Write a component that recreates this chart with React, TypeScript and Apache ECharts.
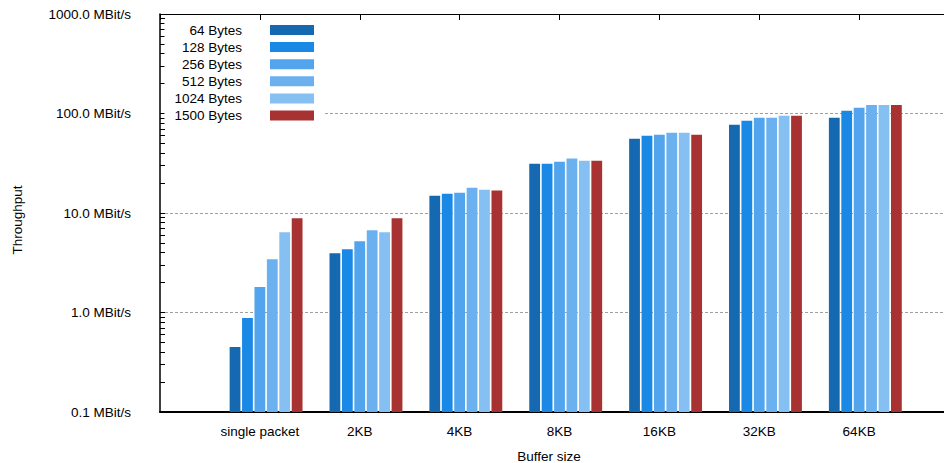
import React, { useEffect, useRef } from 'react';
import * as echarts from 'echarts';

// Buffer sizes along the x axis
const categories = ['single packet', '2KB', '4KB', '8KB', '16KB', '32KB', '64KB'];

// Packet sizes (one series each) and their colours
const seriesNames = ['64 Bytes', '128 Bytes', '256 Bytes', '512 Bytes', '1024 Bytes', '1500 Bytes'];
const seriesColors = ['#1469b0', '#1a88e5', '#52a5ec', '#6bb1ef', '#86bff2', '#a83232'];

// Throughput in MBit/s per buffer size
const bytes64 = [0.45, 3.94, 14.9, 31.3, 55.7, 77.0, 90.5];
const bytes128 = [0.88, 4.33, 15.6, 31.3, 59.7, 84.5, 106.5];
const bytes256 = [1.8, 5.21, 16.0, 32.8, 61.1, 90.5, 114];
const bytes512 = [3.43, 6.72, 17.9, 35.2, 64.0, 90.5, 122];
const bytes1024 = [6.41, 6.41, 17.1, 33.6, 64.0, 94.8, 122];
const bytes1500 = [8.87, 8.87, 16.8, 33.6, 61.1, 94.8, 122];

const seriesValues = [bytes64, bytes128, bytes256, bytes512, bytes1024, bytes1500];

// Log axis range and tick marks (decades with 2..9 sub-ticks)
const yMin = 0.1;
const yMax = 1000;
const decades = [0.1, 1, 10, 100];
const mantissas = [1, 2, 3, 4, 5, 6, 7, 8, 9];

const FONT = '"Liberation Sans", Arial, Helvetica, sans-serif';
const FONT_SIZE = 13.5;

export default function App() {
  const ref = useRef<HTMLDivElement>(null);

  useEffect(() => {
    if (!ref.current) return;
    const chart = echarts.init(ref.current, null, { renderer: 'svg' });

    const tickValues = decades
      .flatMap((d) => mantissas.map((m) => m * d))
      .concat([yMax])
      .map((v) => Math.log10(v));

    const barWidth = 10.8;
    const barGap = '15%';

    const series: any[] = [
      // empty leading slot: keeps the gap of each cluster on its left side
      {
        type: 'bar',
        name: 'gap',
        data: [],
        barWidth,
        barGap,
        xAxisIndex: 0,
        yAxisIndex: 0,
      },
      ...seriesNames.map((name, s) => ({
        type: 'bar',
        name,
        xAxisIndex: 0,
        yAxisIndex: 0,
        barWidth,
        barGap,
        itemStyle: { color: seriesColors[s] },
        emphasis: { disabled: true },
        data: seriesValues[s].map((v, i) => [i, v]),
      })),
    ];

    const option: any = {
      animation: false,
      backgroundColor: '#ffffff',
      textStyle: { fontFamily: FONT },
      grid: {
        left: 160,
        right: -15,
        top: 14,
        bottom: 51,
        containLabel: false,
        outerBoundsMode: 'none',
      },
      legend: {
        data: seriesNames,
        orient: 'vertical',
        align: 'right',
        right: 621,
        top: 21,
        padding: [2, 9, 2, 10],
        backgroundColor: '#ffffff',
        itemWidth: 44,
        itemHeight: 10,
        itemGap: 3.1,
        icon: 'rect',
        selectedMode: false,
        textStyle: {
          fontFamily: FONT,
          fontSize: FONT_SIZE,
          color: '#000',
          padding: [0, 23, 0, 0],
        },
      },
      xAxis: [
        {
          type: 'value',
          position: 'bottom',
          min: -1,
          max: 7,
          interval: 1,
          axisLine: { show: true, onZero: false, lineStyle: { color: '#000', width: 2 } },
          axisTick: { show: false },
          splitLine: { show: false },
          axisLabel: {
            show: true,
            margin: 12,
            color: '#000',
            fontFamily: FONT,
            fontSize: FONT_SIZE,
            formatter: (v: number) => categories[v] ?? '',
          },
        },
        {
          type: 'value',
          position: 'top',
          min: -1,
          max: 7,
          interval: 1,
          axisLine: { show: true, onZero: false, lineStyle: { color: '#000', width: 1 } },
          axisTick: { show: true, inside: true, length: 6, lineStyle: { color: '#000', width: 1 } },
          splitLine: { show: false },
          axisLabel: { show: false },
        },
      ],
      yAxis: [
        {
          type: 'log',
          logBase: 10,
          min: yMin,
          max: yMax,
          startValue: yMin,
          position: 'left',
          axisLine: { show: true, onZero: false, lineStyle: { color: '#000', width: 1.5 } },
          axisTick: { show: false },
          splitLine: {
            show: true,
            showMinLine: false,
            showMaxLine: false,
            lineStyle: { color: '#a0a0a0', width: 1, type: [3, 2] },
          },
          axisLabel: {
            show: true,
            margin: 29,
            color: '#000',
            fontFamily: FONT,
            fontSize: FONT_SIZE,
            formatter: (v: number) => `${Number(v).toFixed(1)} MBit/s`,
          },
        },
        {
          // tick marks of the log scale, laid out in log10 space
          type: 'value',
          position: 'left',
          min: Math.log10(yMin),
          max: Math.log10(yMax),
          axisLine: { show: false, onZero: false },
          axisLabel: { show: false },
          splitLine: { show: false },
          axisTick: {
            show: true,
            inside: true,
            length: 5,
            customValues: tickValues,
            lineStyle: { color: '#000', width: 1 },
          },
        },
      ],
      graphic: [
        {
          type: 'text',
          x: 17,
          y: 220,
          rotation: Math.PI / 2,
          style: {
            text: 'Throughput',
            fill: '#000',
            font: `${FONT_SIZE}px ${FONT}`,
            align: 'center',
            verticalAlign: 'middle',
          },
        },
        {
          type: 'text',
          x: 549,
          y: 456,
          style: {
            text: 'Buffer size',
            fill: '#000',
            font: `${FONT_SIZE}px ${FONT}`,
            align: 'center',
            verticalAlign: 'middle',
          },
        },
      ],
      series,
    };

    chart.setOption(option);
    return () => chart.dispose();
  }, []);

  return (
    <div
      ref={ref}
      style={{ position: 'absolute', left: 0, top: 0, width: 944, height: 463 }}
    />
  );
}
